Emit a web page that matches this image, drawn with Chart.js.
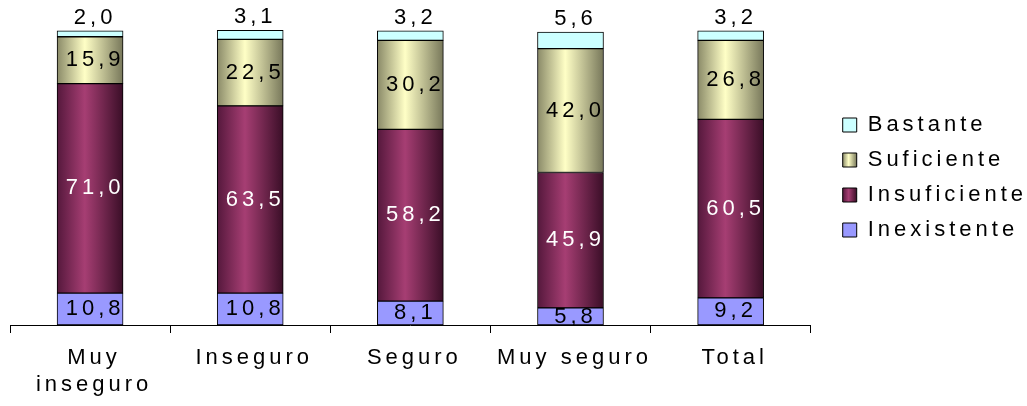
<!DOCTYPE html>
<html>
<head>
<meta charset="utf-8">
<script src="https://cdn.jsdelivr.net/npm/chart.js@4.4.0/dist/chart.umd.min.js"></script>
<style>
  html, body { margin: 0; padding: 0; background: #ffffff; }
  canvas { display: block; }
</style>
</head>
<body>
<canvas id="chart" width="1027" height="406"></canvas>
<script>
// Categories and series values (percentages)
const categories = [['Muy', 'inseguro'], 'Inseguro', 'Seguro', 'Muy seguro', 'Total'];
const inexistente  = [10.8, 10.8, 8.1, 5.8, 9.2];
const insuficiente = [71.0, 63.5, 58.2, 45.9, 60.5];
const suficiente   = [15.9, 22.5, 30.2, 42.0, 26.8];
const bastante     = [2.0, 3.1, 3.2, 5.6, 3.2];
const seriesNames  = ['Inexistente', 'Insuficiente', 'Suficiente', 'Bastante'];

const FONT = '"Liberation Sans", Arial, Helvetica, sans-serif';
const FONT_SIZE = 22;
const SPACING = 4;      // letter spacing of all texts, px
const BAR_W = 66;
const BOX = 14;         // legend box size

Chart.defaults.font.family = FONT;
Chart.defaults.font.size = FONT_SIZE;
Chart.defaults.color = '#000000';

// Shading of the cylinder-like bars: dark edges, light middle
const shades = {
  Insuficiente: [[0, '#55183c'], [0.42, '#a63e73'], [1, '#3a0e27']],
  Suficiente:   [[0, '#8a8a68'], [0.42, '#ffffc6'], [1, '#77775a']]
};
const flatColors = {
  Inexistente: '#9999ff',
  Insuficiente: '#993366',
  Suficiente: '#ffffcc',
  Bastante: '#ccffff'
};
const labelColors = {
  Inexistente: '#000000',
  Insuficiente: '#ffffff',
  Suficiente: '#000000',
  Bastante: '#000000'
};

function shade(ctx, name, x0, x1) {
  if (!isFinite(x0) || !isFinite(x1)) return flatColors[name];
  const g = ctx.createLinearGradient(x0, 0, x1, 0);
  shades[name].forEach(([p, c]) => g.addColorStop(p, c));
  return g;
}

function fillFor(name) {
  if (!shades[name]) return flatColors[name];
  return (c) => {
    if (c.type !== 'data' || !c.chart.scales.x) return flatColors[name];
    const cx = c.chart.scales.x.getPixelForValue(c.dataIndex);
    return shade(c.chart.ctx, name, cx - BAR_W / 2, cx + BAR_W / 2);
  };
}

const seriesValues = [inexistente, insuficiente, suficiente, bastante];

const datasets = seriesNames.map((name, i) => ({
  label: name,
  data: seriesValues[i],
  backgroundColor: fillFor(name),
  borderColor: '#000000',
  borderWidth: 1,
  borderSkipped: false,
  barThickness: BAR_W
}));

// Same letter spacing everywhere, shaded legend boxes
const spacingPlugin = {
  id: 'spacing',
  beforeLayout(chart) { chart.ctx.letterSpacing = SPACING + 'px'; },
  beforeDraw(chart) {
    chart.ctx.letterSpacing = SPACING + 'px';
    const legend = chart.legend;
    if (legend && legend.legendItems && legend.legendHitBoxes) {
      legend.legendItems.forEach((item, i) => {
        const hb = legend.legendHitBoxes[i];
        if (hb && shades[item.text]) {
          item.fillStyle = shade(chart.ctx, item.text, hb.left, hb.left + BOX);
        }
      });
    }
  }
};

// Value labels: centred in each segment, the top series above the bar
const valueLabels = {
  id: 'valueLabels',
  afterDatasetsDraw(chart) {
    const ctx = chart.ctx;
    ctx.save();
    ctx.letterSpacing = SPACING + 'px';
    ctx.font = FONT_SIZE + 'px ' + FONT;
    ctx.textAlign = 'center';
    ctx.textBaseline = 'middle';
    chart.data.datasets.forEach((ds, di) => {
      const meta = chart.getDatasetMeta(di);
      meta.data.forEach((bar, i) => {
        const v = ds.data[i];
        const txt = v.toFixed(1).replace('.', ',');
        const p = bar.getProps(['x', 'y', 'base'], true);
        const outside = ds.label === 'Bastante';
        const ty = outside ? p.y - 13 : (p.y + p.base) / 2;
        ctx.fillStyle = labelColors[ds.label];
        ctx.fillText(txt, p.x + SPACING / 2 + 3, ty);
      });
    });
    ctx.restore();
  }
};

new Chart(document.getElementById('chart'), {
  type: 'bar',
  data: { labels: categories, datasets: datasets },
  plugins: [spacingPlugin, valueLabels],
  options: {
    responsive: false,
    animation: false,
    layout: { padding: { left: 10, top: 30, right: -10, bottom: -3 } },
    plugins: {
      tooltip: { enabled: false },
      legend: {
        position: 'right',
        fullSize: false,
        reverse: true,
        labels: {
          boxWidth: BOX,
          boxHeight: BOX,
          padding: 13,
          color: '#000000',
          font: { size: FONT_SIZE, family: FONT }
        }
      }
    },
    scales: {
      x: {
        stacked: true,
        offset: true,
        border: { display: true, color: '#000000', width: 1 },
        grid: {
          display: true,
          drawOnChartArea: false,
          drawTicks: true,
          tickLength: 8,
          color: '#000000',
          offset: true
        },
        ticks: {
          color: '#000000',
          padding: 11,
          labelOffset: 4,
          maxRotation: 0,
          autoSkip: false,
          font: { size: FONT_SIZE, family: FONT, lineHeight: '27px' }
        }
      },
      y: {
        stacked: true,
        min: 0,
        max: 100,
        position: 'right',
        grid: { display: false },
        border: { display: false },
        ticks: { display: false },
        afterFit(scale) { scale.width = 19; }
      }
    }
  }
});
</script>
</body>
</html>
